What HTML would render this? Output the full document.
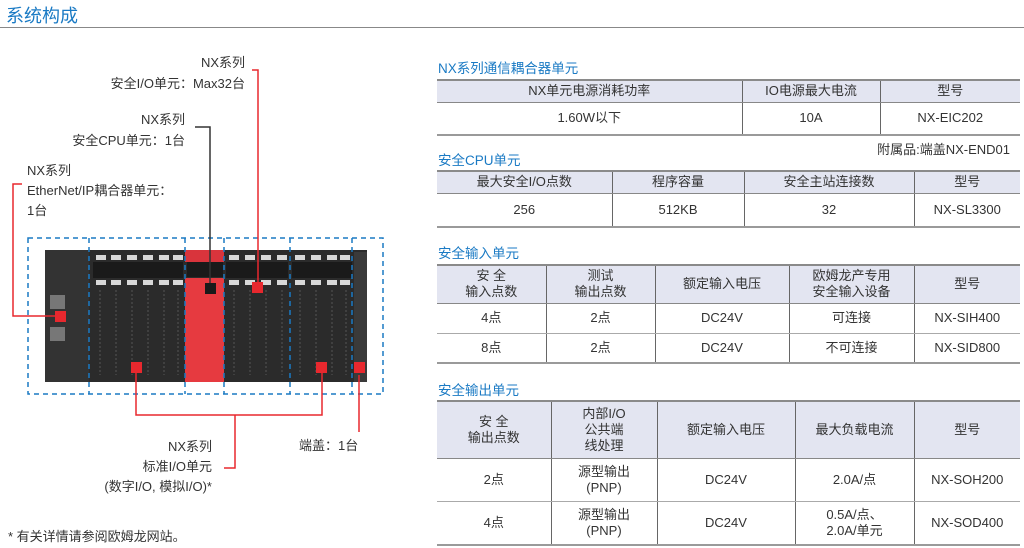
<!DOCTYPE html>
<html><head><meta charset="utf-8"><style>
*{margin:0;padding:0;box-sizing:border-box}
body{width:1024px;height:548px;background:#fff;position:relative;overflow:hidden;font-family:"Liberation Sans","Noto Sans CJK SC",sans-serif;color:#333;font-size:13px}
.a{position:absolute;white-space:nowrap}
.h{color:#1a7ac4;font-size:13.5px}
table{position:absolute;border-collapse:collapse;table-layout:fixed;border-top:2px solid #8a8a8a;border-bottom:2px solid #9a9a9a}
td{text-align:center;vertical-align:middle;border-left:1px solid #666;border-bottom:1px solid #aaa;line-height:16px;padding:0;font-size:13px;color:#333}
td:first-child{border-left:none}
tr.hd td{background:#e3e5f1;border-bottom:1px solid #888}
tr:last-child td{border-bottom:none}
</style></head><body>
<div class="a" style="left:6px;top:2px;font-size:18px;color:#1a7ac4">系统构成</div>
<div class="a" style="left:0;top:27px;width:1024px;height:1px;background:#888"></div>

<svg class="a" style="left:0;top:0" width="430" height="548">
<!-- device -->
<rect x="45" y="250" width="322" height="132" fill="#2b2b2b"/>
<rect x="45" y="250" width="44" height="132" fill="#333"/>
<g fill="#1a1a1a">
<rect x="93" y="262" width="90" height="16"/><rect x="226" y="262" width="62" height="16"/><rect x="292" y="262" width="60" height="16"/>
</g>
<g fill="#d8d8d8">
<rect x="96" y="255" width="10" height="5"/><rect x="111" y="255" width="10" height="5"/><rect x="127" y="255" width="10" height="5"/><rect x="143" y="255" width="10" height="5"/><rect x="159" y="255" width="10" height="5"/><rect x="173" y="255" width="10" height="5"/>
<rect x="229" y="255" width="10" height="5"/><rect x="245" y="255" width="10" height="5"/><rect x="261" y="255" width="10" height="5"/><rect x="277" y="255" width="10" height="5"/><rect x="295" y="255" width="10" height="5"/><rect x="311" y="255" width="10" height="5"/><rect x="327" y="255" width="10" height="5"/><rect x="340" y="255" width="10" height="5"/>
<rect x="96" y="280" width="10" height="5"/><rect x="111" y="280" width="10" height="5"/><rect x="127" y="280" width="10" height="5"/><rect x="143" y="280" width="10" height="5"/><rect x="159" y="280" width="10" height="5"/><rect x="173" y="280" width="10" height="5"/>
<rect x="229" y="280" width="10" height="5"/><rect x="245" y="280" width="10" height="5"/><rect x="261" y="280" width="10" height="5"/><rect x="277" y="280" width="10" height="5"/><rect x="295" y="280" width="10" height="5"/><rect x="311" y="280" width="10" height="5"/><rect x="327" y="280" width="10" height="5"/><rect x="340" y="280" width="10" height="5"/>
</g>
<g stroke="#555" stroke-width="1" stroke-dasharray="2 2">
<line x1="100" y1="290" x2="100" y2="375"/><line x1="116" y1="290" x2="116" y2="375"/><line x1="132" y1="290" x2="132" y2="375"/><line x1="148" y1="290" x2="148" y2="375"/><line x1="164" y1="290" x2="164" y2="375"/><line x1="178" y1="290" x2="178" y2="375"/>
<line x1="234" y1="290" x2="234" y2="375"/><line x1="250" y1="290" x2="250" y2="375"/><line x1="266" y1="290" x2="266" y2="375"/><line x1="282" y1="290" x2="282" y2="375"/><line x1="300" y1="290" x2="300" y2="375"/><line x1="316" y1="290" x2="316" y2="375"/><line x1="332" y1="290" x2="332" y2="375"/><line x1="346" y1="290" x2="346" y2="375"/>
</g>
<rect x="185" y="250" width="39" height="12" fill="#d9343c"/>
<rect x="187" y="262" width="36" height="15" fill="#1a1a1a"/>
<rect x="185" y="278" width="39" height="104" fill="#e63a40"/>
<rect x="354" y="252" width="13" height="130" fill="#3a3a3a"/>
<rect x="50" y="295" width="15" height="14" fill="#777"/><rect x="50" y="327" width="15" height="14" fill="#777"/>
<!-- dashed boxes -->
<g fill="none" stroke="#1a7ac4" stroke-width="1.5" stroke-dasharray="5 4">
<rect x="28" y="238" width="355" height="156"/>
<line x1="89" y1="238" x2="89" y2="394"/><line x1="185" y1="238" x2="185" y2="394"/><line x1="224" y1="238" x2="224" y2="394"/><line x1="290" y1="238" x2="290" y2="394"/><line x1="352" y1="238" x2="352" y2="394"/>
</g>
<!-- leaders -->
<g fill="none" stroke-width="1.5">
<polyline stroke="#e8282e" points="22,184 13,184 13,316 60,316"/>
<polyline stroke="#333" points="195,127 210,127 210,288"/>
<polyline stroke="#e8282e" points="252,70 258,70 258,287"/>
<polyline stroke="#e8282e" points="136,367 136,415 322,415 322,367"/>
<polyline stroke="#e8282e" points="235,415 235,468 224,468"/>
<polyline stroke="#e8282e" points="359,375 359,432"/>
</g>
<g fill="#e8282e">
<rect x="55" y="311" width="11" height="11"/><rect x="131" y="362" width="11" height="11"/><rect x="316" y="362" width="11" height="11"/><rect x="354" y="362" width="11" height="11"/><rect x="252" y="282" width="11" height="11"/>
</g>
<rect x="205" y="283" width="11" height="11" fill="#1a1a1a"/>
</svg>

<div class="a" style="right:779px;top:52px;text-align:right;line-height:21px">NX系列<br>安全I/O单元：Max32台</div>
<div class="a" style="right:839px;top:109px;text-align:right;line-height:21px">NX系列<br>安全CPU单元：1台</div>
<div class="a" style="left:27px;top:161px;line-height:20px">NX系列<br>EtherNet/IP耦合器单元：<br>1台</div>
<div class="a" style="right:812px;top:437px;text-align:right;line-height:20px">NX系列<br>标准I/O单元<br>(数字I/O, 模拟I/O)*</div>
<div class="a" style="left:299px;top:435px">端盖：1台</div>
<div class="a" style="left:8px;top:526px">* 有关详情请参阅欧姆龙网站。</div>

<div class="a h" style="left:438px;top:57px">NX系列通信耦合器单元</div>
<table style="left:437px;top:79px;width:583px">
<col style="width:305px"><col style="width:138px"><col style="width:140px">
<tr class="hd" style="height:22px"><td>NX单元电源消耗功率</td><td>IO电源最大电流</td><td>型号</td></tr>
<tr style="height:33px"><td>1.60W以下</td><td>10A</td><td>NX-EIC202</td></tr>
</table>
<div class="a" style="right:14px;top:139px">附属品:端盖NX-END01</div>

<div class="a h" style="left:438px;top:149px">安全CPU单元</div>
<table style="left:437px;top:170px;width:583px">
<col style="width:175px"><col style="width:132px"><col style="width:170px"><col style="width:106px">
<tr class="hd" style="height:22px"><td>最大安全I/O点数</td><td>程序容量</td><td>安全主站连接数</td><td>型号</td></tr>
<tr style="height:34px"><td>256</td><td>512KB</td><td>32</td><td>NX-SL3300</td></tr>
</table>

<div class="a h" style="left:438px;top:242px">安全输入单元</div>
<table style="left:437px;top:264px;width:583px">
<col style="width:109px"><col style="width:109px"><col style="width:134px"><col style="width:125px"><col style="width:106px">
<tr class="hd" style="height:38px"><td>安 全<br>输入点数</td><td>测试<br>输出点数</td><td>额定输入电压</td><td>欧姆龙产专用<br>安全输入设备</td><td>型号</td></tr>
<tr style="height:30px"><td>4点</td><td>2点</td><td>DC24V</td><td>可连接</td><td>NX-SIH400</td></tr>
<tr style="height:30px"><td>8点</td><td>2点</td><td>DC24V</td><td>不可连接</td><td>NX-SID800</td></tr>
</table>

<div class="a h" style="left:438px;top:379px">安全输出单元</div>
<table style="left:437px;top:400px;width:583px">
<col style="width:114px"><col style="width:106px"><col style="width:138px"><col style="width:119px"><col style="width:106px">
<tr class="hd" style="height:57px"><td>安 全<br>输出点数</td><td>内部I/O<br>公共端<br>线处理</td><td>额定输入电压</td><td>最大负载电流</td><td>型号</td></tr>
<tr style="height:43px"><td>2点</td><td>源型输出<br>(PNP)</td><td>DC24V</td><td>2.0A/点</td><td>NX-SOH200</td></tr>
<tr style="height:44px"><td>4点</td><td>源型输出<br>(PNP)</td><td>DC24V</td><td>0.5A/点、<br>2.0A/单元</td><td>NX-SOD400</td></tr>
</table>
</body></html>
